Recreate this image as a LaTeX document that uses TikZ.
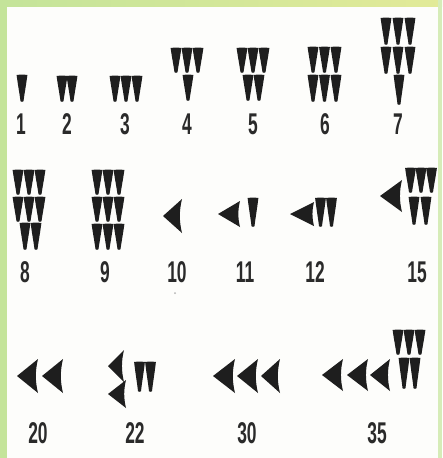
\documentclass[tikz,border=0pt]{standalone}
\usepackage{fontspec}
\setmainfont{Liberation Sans}
\definecolor{wedgecol}{HTML}{1E1E1E}
\definecolor{numcol}{HTML}{2A2A2A}
\definecolor{grnL}{HTML}{C4E49A}
\definecolor{grnR}{HTML}{E2EA98}
\definecolor{paper}{HTML}{FDFDFB}
\tikzset{
  vw/.pic={\fill[wedgecol] (-5.4,0) .. controls (-2,-0.5) and (2,-0.5) .. (5.4,0) .. controls (4,\wh*0.4) and (2.2,\wh*0.75) .. (1.5,\wh-0.8) .. controls (0.9,\wh) and (-0.9,\wh) .. (-1.5,\wh-0.8) .. controls (-2.2,\wh*0.75) and (-4,\wh*0.4) .. (-5.4,0) -- cycle;},
  numlbl/.style={text=numcol, font=\bfseries\fontsize{30}{30}\selectfont, inner sep=0pt, anchor=center}
}
\newcommand{\wh}{26}
% vertical wedge: \vwedge{cx}{top}{height}
\newcommand{\vwedge}[3]{\renewcommand{\wh}{#3}\pic at (#1,#2) {vw};}
% corner wedge: \cwedge{tipx}{cy}{rightx}{half}
\newcommand{\cwedge}[4]{\fill[wedgecol] (#1,#2) -- (#3,#2-#4) .. controls (#3-#4*0.17,#2-#4*0.3) and (#3-#4*0.17,#2+#4*0.3) .. (#3,#2+#4) -- cycle;}
\newcommand{\lbl}[3]{\node[numlbl] (n#3) at (#1,#2) {\scalebox{0.58}[1]{#3}};}
\begin{document}
\begin{tikzpicture}[x=1pt,y=-1pt]
\useasboundingbox (0,0) rectangle (442,458);
\fill[paper] (0,0) rectangle (442,458);
\fill[grnL] (0,0) rectangle (7,458);
\shade[left color=grnL, right color=grnR] (0,0) rectangle (442,6.5);
\fill[grnL!70!white] (438,0) rectangle (442,458);
% ---- row 1
\vwedge{22}{75}{27}
\vwedge{62}{76}{26}\vwedge{72}{76}{26}
\vwedge{115}{76}{26}\vwedge{126}{76}{26}\vwedge{137}{76}{26}
\vwedge{176}{48}{25}\vwedge{187}{48}{25}\vwedge{198}{48}{25}\vwedge{188}{75}{26}
\vwedge{242}{48}{25}\vwedge{253}{48}{25}\vwedge{264}{48}{25}\vwedge{248}{75}{26}\vwedge{259}{75}{26}
\vwedge{313}{47}{26}\vwedge{324.5}{47}{26}\vwedge{336}{47}{26}
\vwedge{313}{75}{27}\vwedge{324.5}{75}{27}\vwedge{336}{75}{27}
\vwedge{386}{18}{27}\vwedge{398}{18}{27}\vwedge{410}{18}{27}
\vwedge{386}{47}{27}\vwedge{398}{47}{27}\vwedge{410}{47}{27}
\vwedge{399}{75}{30}
% ---- row 2
\vwedge{18}{170}{25}\vwedge{29}{170}{25}\vwedge{40}{170}{25}
\vwedge{18}{197}{25}\vwedge{29}{197}{25}\vwedge{40}{197}{25}
\vwedge{25}{223}{27}\vwedge{36}{223}{27}
\vwedge{97}{170}{25}\vwedge{108}{170}{25}\vwedge{119}{170}{25}
\vwedge{97}{197}{25}\vwedge{108}{197}{25}\vwedge{119}{197}{25}
\vwedge{97}{224}{26}\vwedge{108}{224}{26}\vwedge{119}{224}{26}
\cwedge{163}{216}{182}{17}
\cwedge{218}{214}{240}{13}\vwedge{253}{198}{29}
\cwedge{290}{214}{314}{12}\vwedge{320.5}{198}{29}\vwedge{331.5}{198}{29}
\cwedge{380}{196}{402}{16}
\vwedge{410.5}{168}{25}\vwedge{421}{168}{25}\vwedge{431.5}{168}{25}
\vwedge{414}{197}{28}\vwedge{426}{197}{28}
\fill[gray!60] (175,293) circle (1);
% ---- row 3
\cwedge{17}{376}{38}{17}\cwedge{42}{376}{63}{17}
\cwedge{108}{366}{124}{16}\cwedge{108}{394}{126}{14}
\vwedge{139.5}{362}{30}\vwedge{150.5}{362}{30}
\cwedge{213}{376}{235}{17}\cwedge{237}{376}{258}{17}\cwedge{261}{376}{280}{17}
\cwedge{322}{375}{343}{16}\cwedge{347}{375}{368}{16}\cwedge{370}{375}{390}{16}
\vwedge{398}{330}{25}\vwedge{409}{330}{25}\vwedge{420}{330}{25}
\vwedge{404}{358}{31}\vwedge{415}{358}{31}
% ---- labels
\lbl{21}{124}{1}\lbl{67}{124}{2}\lbl{125}{124}{3}\lbl{187}{124}{4}
\lbl{253}{124}{5}\lbl{325}{124}{6}\lbl{398}{124}{7}
\lbl{25}{272}{8}\lbl{105}{272}{9}\lbl{177}{272}{10}\lbl{245}{272}{11}
\lbl{315}{272}{12}\lbl{417}{272}{15}
\lbl{38}{433}{20}\lbl{135}{433}{22}\lbl{247}{433}{30}\lbl{377}{433}{35}
\end{tikzpicture}
\end{document}
